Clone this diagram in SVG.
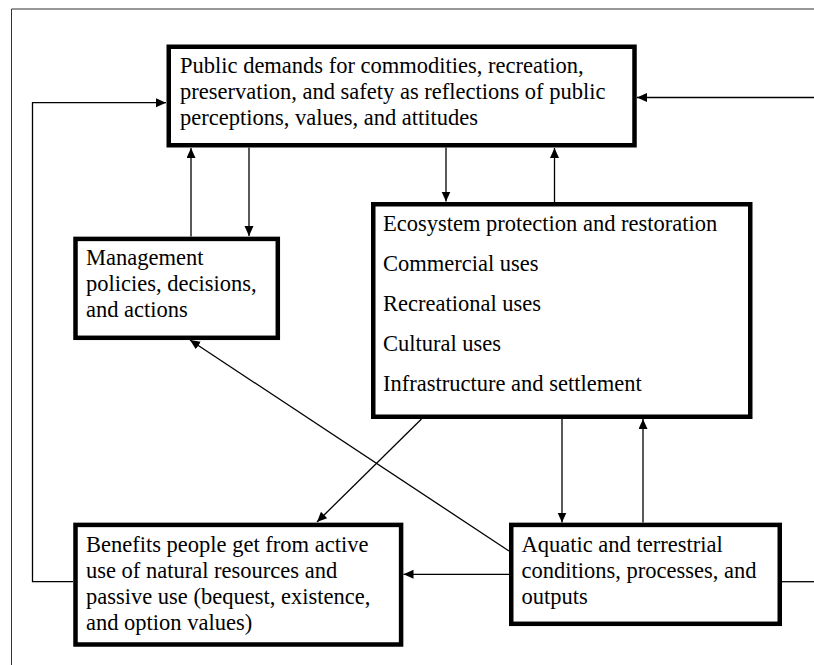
<svg xmlns="http://www.w3.org/2000/svg" width="814" height="665" viewBox="0 0 814 665">
<style>
.box{fill:#fff;stroke:#000;stroke-width:4.5}
.t{font-family:"Liberation Serif","Times New Roman",serif;font-size:22.5px;fill:#000}
.c{fill:none;stroke:#000;stroke-width:1.3}
.a{marker-end:url(#ah)}
</style>
<defs>
<marker id="ah" markerUnits="userSpaceOnUse" markerWidth="11" markerHeight="10" refX="10" refY="4.5" orient="auto">
<path d="M0,0 L10,4.5 L0,9 z" fill="#000"/>
</marker>
</defs>
<rect width="814" height="665" fill="#fff"/>
<path d="M11.5,665 V9 H814" fill="none" stroke="#333" stroke-width="1"/>
<g id="connectors">
<path class="c a" d="M73,581.7 H32.5 V102.7 H166"/>
<path class="c a" d="M814,97.5 H637"/>
<path class="c a" d="M191,236.5 V148"/>
<path class="c a" d="M249,147.5 V236"/>
<path class="c a" d="M446,147.5 V201.5"/>
<path class="c a" d="M554.5,202 V148"/>
<path class="c a" d="M509,551 L190,340"/>
<path class="c a" d="M421.5,419 L317,522"/>
<path class="c a" d="M562,419 V522.5"/>
<path class="c a" d="M643,522.5 V419"/>
<path class="c a" d="M509,574.3 H403.5"/>
<path class="c" d="M782,581.7 H814"/>
</g>
<g id="public-demands">
<rect class="box" x="168.75" y="46.75" width="465.75" height="98.5"/>
<text class="t" x="180" y="73">Public demands for commodities, recreation,</text>
<text class="t" x="180" y="99">preservation, and safety as reflections of public</text>
<text class="t" x="180" y="125">perceptions, values, and attitudes</text>
</g>
<g id="management">
<rect class="box" x="75.5" y="238.9" width="202.3" height="98.9"/>
<text class="t" x="86" y="265">Management</text>
<text class="t" x="86" y="291">policies, decisions,</text>
<text class="t" x="86" y="317">and actions</text>
</g>
<g id="uses">
<rect class="box" x="373.25" y="204.25" width="377" height="212.5"/>
<text class="t" x="383" y="231">Ecosystem protection and restoration</text>
<text class="t" x="383" y="271">Commercial uses</text>
<text class="t" x="383" y="310.5">Recreational uses</text>
<text class="t" x="383" y="350.5">Cultural uses</text>
<text class="t" x="383" y="390.5">Infrastructure and settlement</text>
</g>
<g id="benefits">
<rect class="box" x="75.5" y="524.9" width="325.6" height="119.6"/>
<text class="t" x="86" y="551.5">Benefits people get from active</text>
<text class="t" x="86" y="577.5">use of natural resources and</text>
<text class="t" x="86" y="603.5">passive use (bequest, existence,</text>
<text class="t" x="86" y="629.5">and option values)</text>
</g>
<g id="aquatic">
<rect class="box" x="511.25" y="524.9" width="268.5" height="98.9"/>
<text class="t" x="521.5" y="551.5">Aquatic and terrestrial</text>
<text class="t" x="521.5" y="577.5">conditions, processes, and</text>
<text class="t" x="521.5" y="603.5">outputs</text>
</g>
</svg>
